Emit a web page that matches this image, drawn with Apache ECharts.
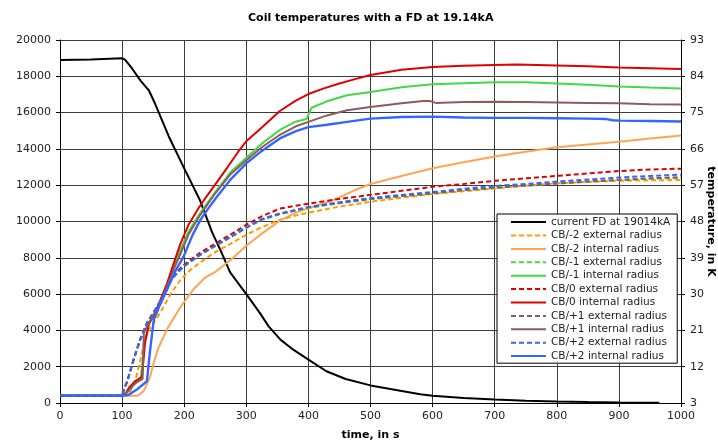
<!DOCTYPE html>
<html>
<head>
<meta charset="utf-8">
<script src="https://cdn.jsdelivr.net/npm/echarts@6/dist/echarts.min.js"></script>
<style>
  html, body { margin: 0; padding: 0; background: #fff; }
  #chart { width: 718px; height: 442px; }
</style>
</head>
<body>
<div id="chart"></div>
<script>
// Time axis ticks (s), current axis ticks (A), temperature axis ticks (K)
const timeTicks = [0, 100, 200, 300, 400, 500, 600, 700, 800, 900, 1000];
const currentTicks = [0, 2000, 4000, 6000, 8000, 10000, 12000, 14000, 16000, 18000, 20000];
const tempTicks = [3, 12, 21, 30, 39, 48, 57, 66, 75, 84, 93];

// Current in the FD during the discharge: [time s, current A]
const currentFD = [[0,18900],[50,18930],[100,19000],[105,18900],[116,18430],[130,17750],[143,17230],[153,16500],[175,14700],[200,12930],[225,11200],[245,9400],[258,8450],[274,7200],[300,6000],[322,4950],[336,4220],[355,3490],[375,2950],[400,2390],[429,1750],[460,1320],[500,970],[548,680],[580,480],[600,400],[650,280],[700,187],[750,120],[800,77],[850,50],[900,30],[965,15]];

// Coil temperatures: [time s, temperature K]
const cbM2ext = [[0,4.8],[110,4.8],[115,6.5],[122,9],[130,14],[137,19],[145,21.5],[161,25.3],[180,30.5],[194,33.5],[210,36],[226,37.9],[250,40.4],[275,42.5],[300,44.7],[325,46.6],[354,48.4],[380,49.5],[400,50.2],[450,51.7],[500,52.9],[550,53.9],[600,54.8],[650,55.5],[700,56.2],[750,56.9],[800,57.5],[850,57.8],[900,58.1],[950,58.2],[1000,58.3]];
const cbM2int = [[0,4.8],[125,4.8],[135,6],[145,9.5],[150,12.5],[158,16.5],[172,21.2],[185,24.5],[194,26.8],[215,31.2],[233,34.0],[250,35.5],[275,38.5],[300,42.0],[325,45.0],[354,48.2],[380,50.2],[400,51.3],[430,52.7],[450,54.0],[475,55.8],[500,57.3],[550,59.3],[600,61.2],[650,62.7],[700,64.1],[750,65.3],[800,66.4],[850,67.1],[900,67.8],[950,68.6],[1000,69.3]];
const cbM1ext = [[0,4.8],[100,4.8],[103,6.5],[108,8.2],[118,13.5],[129,18.7],[140,22.8],[155,26.5],[170,30.5],[180,33.7],[190,35.4],[200,36.9],[226,39.7],[250,41.9],[275,44.1],[300,46.4],[325,48.4],[354,49.8],[380,50.7],[400,51.4],[450,52.5],[500,53.5],[550,54.3],[600,55.0],[650,55.7],[700,56.3],[750,56.9],[800,57.4],[850,57.9],[900,58.3],[950,58.6],[1000,58.8]];
const cbM1int = [[0,4.8],[100,4.8],[108,5.5],[118,7.5],[130,9],[136,18],[143,22.5],[155,26],[172,32],[185,37.5],[194,41],[207,45.5],[223,49.5],[250,55.3],[275,60.3],[300,63.8],[325,67.3],[354,70.7],[380,72.8],[397,73.4],[405,76.2],[430,77.8],[462,79.3],[500,80.1],[550,81.3],[600,82.0],[650,82.3],[700,82.5],[750,82.5],[800,82.2],[850,81.9],[900,81.5],[950,81.2],[1000,81.0]];
const cb0ext = [[0,4.8],[100,4.8],[103,6.5],[108,8.2],[118,13.5],[129,18.7],[140,22.8],[155,26.5],[170,30.5],[180,34],[190,35.8],[200,37.3],[226,40.3],[250,42.5],[275,44.8],[300,47.2],[325,49.3],[354,51.2],[380,51.9],[400,52.4],[450,53.6],[500,54.6],[550,55.6],[600,56.6],[650,57.3],[700,58.1],[750,58.7],[800,59.3],[850,59.9],[900,60.5],[950,60.9],[1000,61.1]];
const cb0int = [[0,4.8],[100,4.8],[106,5.5],[112,7.0],[122,8.5],[132,9.5],[137,18],[143,22.5],[155,26],[172,32.5],[185,38.5],[194,42.5],[207,47.2],[223,51.3],[235,54],[250,57.2],[270,61.5],[287,65.3],[300,67.9],[325,71.3],[354,75.4],[379,77.9],[400,79.6],[425,81],[450,82.2],[475,83.3],[500,84.3],[550,85.6],[600,86.3],[650,86.6],[700,86.8],[735,86.9],[800,86.7],[850,86.5],[900,86.2],[950,86.0],[1000,85.8]];
const cbP1ext = [[0,4.8],[100,4.8],[103,6.5],[108,8.2],[118,13.5],[129,18.7],[140,22.8],[155,26.5],[170,30.5],[180,33.8],[190,35.5],[200,37.0],[226,39.8],[250,42.0],[275,44.2],[300,46.5],[325,48.5],[354,49.9],[380,50.8],[400,51.5],[450,52.6],[500,53.6],[550,54.3],[600,55.0],[650,55.8],[700,56.4],[750,56.9],[800,57.4],[850,57.9],[900,58.3],[950,58.7],[1000,59.0]];
const cbP1int = [[0,4.8],[100,4.8],[110,6],[122,8],[133,9],[135,20.5],[145,23.4],[160,27.5],[172,31.8],[185,36.8],[194,40],[207,44.8],[223,49],[250,55],[275,59.8],[300,63.2],[325,66.4],[354,69.5],[380,71.6],[400,72.7],[430,74.3],[462,75.6],[500,76.4],[550,77.3],[585,77.9],[595,77.9],[605,77.4],[650,77.6],[700,77.7],[750,77.6],[800,77.5],[850,77.4],[900,77.3],[950,77.1],[1000,77.0]];
const cbP2ext = [[0,4.8],[100,4.8],[103,6.5],[108,8.2],[118,13.5],[129,18.7],[140,22.8],[155,26.5],[170,30.5],[180,33.8],[190,35.5],[200,37.0],[226,39.8],[250,42.0],[275,44.2],[300,46.6],[325,48.6],[354,50.0],[380,50.9],[400,51.6],[450,52.8],[500,53.8],[550,54.6],[600,55.3],[650,56.1],[700,56.8],[750,57.3],[800,57.9],[850,58.4],[900,58.9],[950,59.3],[1000,59.6]];
const cbP2int = [[0,4.8],[100,4.8],[110,5.0],[125,6.5],[140,8.4],[145,16],[151,23.6],[160,27],[172,31],[185,35.5],[199,39.3],[213,44.5],[226,48.4],[240,51.5],[253,54.2],[274,58.3],[300,62.4],[325,65.5],[354,68.6],[380,70.4],[400,71.4],[430,72.0],[462,72.7],[500,73.5],[550,73.9],[600,74.0],[650,73.8],[700,73.7],[750,73.7],[800,73.6],[850,73.5],[880,73.4],[890,73.1],[900,73.0],[950,72.9],[1000,72.8]];

const FONT = 'DejaVu Sans';
const DASH = [5, 3];

function tempSeries(name, data, color, dashed, width) {
  return {
    name: name,
    type: 'line',
    yAxisIndex: 1,
    data: data,
    symbol: 'none',
    smooth: false,
    color: color,
    lineStyle: { color: color, width: width || 2, type: dashed ? DASH : 'solid' }
  };
}

const series = [
  {
    name: 'current FD at 19014kA',
    type: 'line',
    yAxisIndex: 0,
    data: currentFD,
    symbol: 'none',
    color: '#000000',
    lineStyle: { color: '#000000', width: 2 }
  },
  tempSeries('CB/-2 external radius', cbM2ext, '#FF9900', true),
  tempSeries('CB/-2 internal radius', cbM2int, '#FFA54F', false),
  tempSeries('CB/-1 external radius', cbM1ext, '#44D944', true),
  tempSeries('CB/-1 internal radius', cbM1int, '#44D944', false),
  tempSeries('CB/0 external radius', cb0ext, '#E00000', true),
  tempSeries('CB/0 internal radius', cb0int, '#E00000', false),
  tempSeries('CB/+1 external radius', cbP1ext, '#8E5B5B', true),
  tempSeries('CB/+1 internal radius', cbP1int, '#8E5B5B', false),
  tempSeries('CB/+2 external radius', cbP2ext, '#3366FF', true),
  tempSeries('CB/+2 internal radius', cbP2int, '#3366FF', false, 2.4)
];

const gridLine = { show: true, lineStyle: { color: '#3c3c3c', width: 1 } };
const axisLine = { show: true, onZero: false, lineStyle: { color: '#000', width: 1 } };
const axisTick = { show: true, inside: false, length: 4, lineStyle: { color: '#000' } };
const plainNumber = v => String(v);
const labelStyle = { color: '#222', fontFamily: FONT, fontSize: 11, formatter: plainNumber };

const chart = echarts.init(document.getElementById('chart'), null, { renderer: 'canvas' });
chart.setOption({
  animation: false,
  backgroundColor: '#ffffff',
  title: {
    text: 'Coil temperatures with a FD at 19.14kA',
    left: 248,
    top: 13,
    padding: 0,
    textStyle: { fontFamily: FONT, fontSize: 11, fontWeight: 'bold', color: '#000' }
  },
  grid: { left: 60, right: 37, top: 40, bottom: 39, containLabel: false, outerBoundsMode: 'none' },
  legend: {
    orient: 'vertical',
    left: 497,
    top: 214,
    padding: [2.5, 7, 1.5, 13],
    itemWidth: 35,
    itemHeight: 14,
    itemGap: 2.2,
    backgroundColor: '#ffffff',
    borderColor: '#000',
    borderWidth: 1,
    borderRadius: 0,
    itemStyle: { opacity: 0 },
    textStyle: { fontFamily: FONT, fontSize: 10.5, color: '#222' },
    data: series.map(s => s.name)
  },
  xAxis: {
    type: 'value',
    min: timeTicks[0],
    max: timeTicks[timeTicks.length - 1],
    interval: 100,
    name: 'time, in s',
    nameLocation: 'middle',
    nameGap: 27,
    nameMoveOverlap: false,
    nameTextStyle: { fontFamily: FONT, fontSize: 11, fontWeight: 'bold', color: '#000' },
    axisLine: axisLine,
    axisTick: axisTick,
    axisLabel: Object.assign({ margin: 8 }, labelStyle),
    splitLine: gridLine
  },
  yAxis: [
    {
      type: 'value',
      position: 'left',
      min: currentTicks[0],
      max: currentTicks[currentTicks.length - 1],
      interval: 2000,
      axisLine: axisLine,
      axisTick: axisTick,
      axisLabel: Object.assign({ margin: 9 }, labelStyle),
      splitLine: gridLine
    },
    {
      type: 'value',
      position: 'right',
      min: tempTicks[0],
      max: tempTicks[tempTicks.length - 1],
      interval: 9,
      name: 'temperature, in K',
      nameLocation: 'middle',
      nameRotate: -90,
      nameGap: 24,
      nameMoveOverlap: false,
      nameTextStyle: { fontFamily: FONT, fontSize: 11, fontWeight: 'bold', color: '#000' },
      axisLine: axisLine,
      axisTick: axisTick,
      axisLabel: Object.assign({ margin: 9 }, labelStyle),
      splitLine: { show: false }
    }
  ],
  series: series
});
</script>
</body>
</html>
